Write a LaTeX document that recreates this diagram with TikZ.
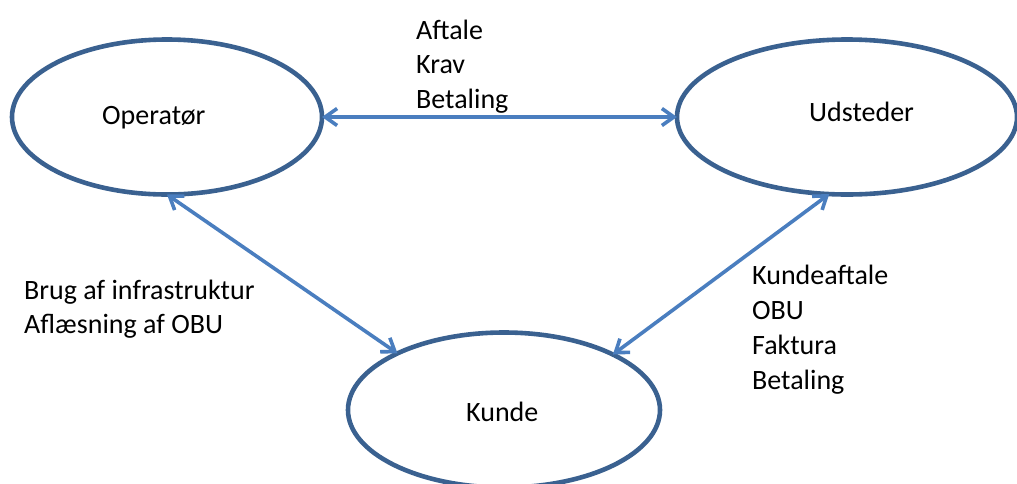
\documentclass[tikz,border=0pt]{standalone}
\usepackage{fontspec}
\setmainfont{Carlito}
\usetikzlibrary{shapes.geometric,arrows.meta}
\definecolor{ellcol}{HTML}{3A6190}
\definecolor{arrcol}{HTML}{4A7EBF}
\begin{document}
\begin{tikzpicture}[x=1pt,y=-1pt,
  ell/.style={draw=ellcol,line width=4.6pt,ellipse,inner sep=0pt,outer sep=0pt},
  txt/.style={inner sep=0pt,anchor=base west,font=\fontsize{28}{35}\selectfont},
  conn/.style={draw=arrcol,line width=3.6pt,
    {Straight Barb[length=12pt,width=17pt,line width=3.6pt]}-{Straight Barb[length=12pt,width=17pt,line width=3.6pt]}}]
\path[use as bounding box] (0,0) rectangle (1017,483);
\node[ell,minimum width=310pt,minimum height=155pt] (op) at (167,117) {};
\node[ell,minimum width=340pt,minimum height=155pt] (ud) at (847,117) {};
\node[ell,minimum width=312pt,minimum height=155pt] (ku) at (504,410) {};
\node[txt] (opt) at (102,124) {Operatør};
\node[txt] (udt) at (809,121) {Udsteder};
\node[txt] (kut) at (466,421) {Kunde};
\draw[conn] (op.east) -- (ud.west);
\draw[conn] (op.south) -- (ku.152.6);
\draw[conn] (ud.257.9) -- (ku.27.2);
\node[txt] (t1) at (416,39) {Aftale};
\node[txt] (t2) at (416,73) {Krav};
\node[txt] (t3) at (416,108) {Betaling};
\node[txt] (l1) at (24,299) {Brug af infrastruktur};
\node[txt] (l2) at (24,333) {Aflæsning af OBU};
\node[txt] (r1) at (752,284) {Kundeaftale};
\node[txt] (r2) at (752,319) {OBU};
\node[txt] (r3) at (752,354) {Faktura};
\node[txt] (r4) at (752,389) {Betaling};
\end{tikzpicture}
\end{document}
